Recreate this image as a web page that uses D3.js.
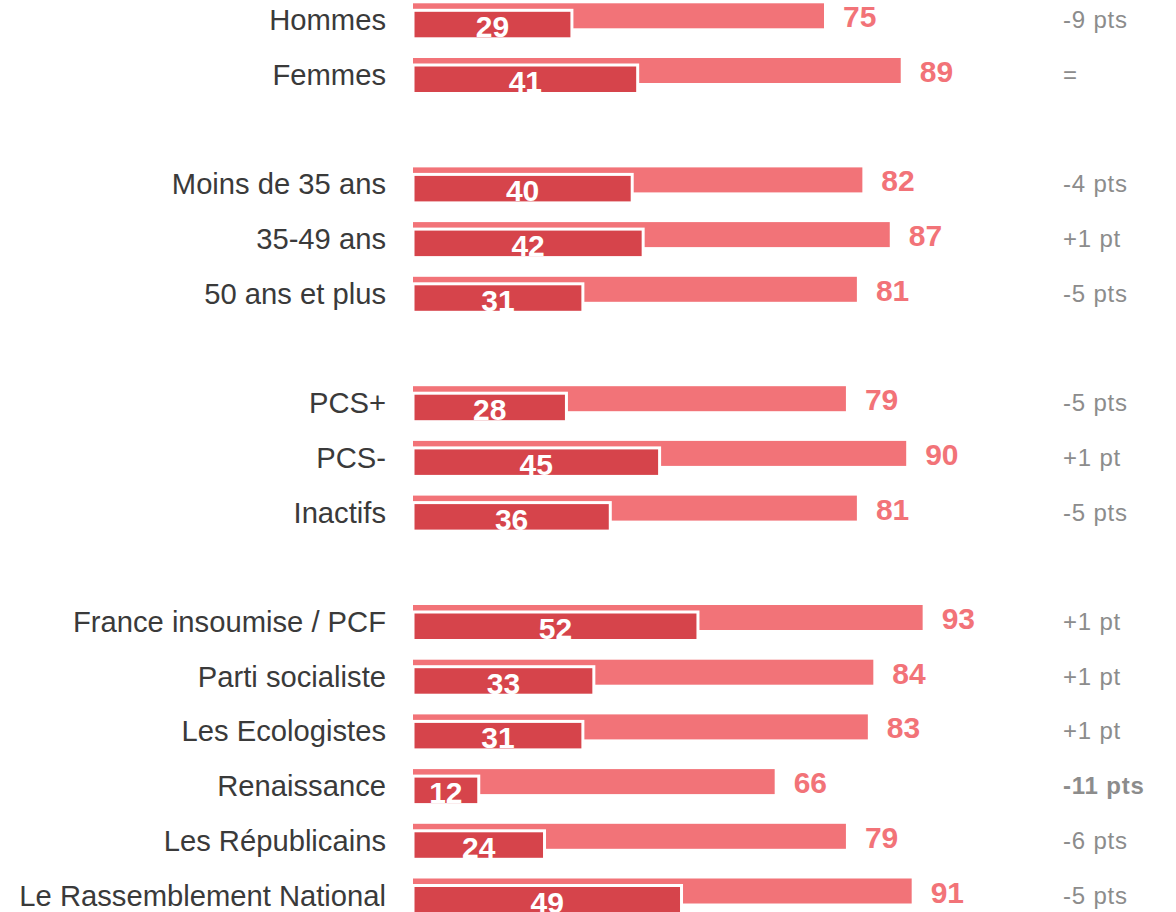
<!DOCTYPE html>
<html>
<head>
<meta charset="utf-8">
<script src="https://cdn.jsdelivr.net/npm/d3@7"></script>
<style>
  html, body { margin: 0; padding: 0; background: #fff; }
  svg { display: block; font-family: "Liberation Sans", Arial, sans-serif; }
</style>
</head>
<body>
<div id="chart"></div>
<script>
const width = 1176;
const height = 912;

// données
const categories = ["Hommes", "Femmes",
    "Moins de 35 ans", "35-49 ans", "50 ans et plus",
    "PCS+", "PCS-", "Inactifs",
    "France insoumise / PCF", "Parti socialiste", "Les Ecologistes",
    "Renaissance", "Les Républicains", "Le Rassemblement National"];
const totals = [75, 89, 82, 87, 81, 79, 90, 81, 93, 84, 83, 66, 79, 91];
const cores = [29, 41, 40, 42, 31, 28, 45, 36, 52, 33, 31, 12, 24, 49];
const changes = ["-9 pts", "=", "-4 pts", "+1 pt", "-5 pts", "-5 pts", "+1 pt", "-5 pts",
    "+1 pt", "+1 pt", "+1 pt", "-11 pts", "-6 pts", "-5 pts"];
const groupSizes = [2, 3, 3, 6];
const highlighted = ["Renaissance"];

// position de chaque ligne (une ligne vide entre les groupes)
const slots = [];
let s = 0;
groupSizes.forEach(n => {
    for (let i = 0; i < n; i++) slots.push(s++);
    s++;
});

const rows = categories.map((c, i) => ({
    name: c, total: totals[i], core: cores[i], change: changes[i], slot: slots[i]
}));

const x = d3.scaleLinear().domain([0, 100]).range([413, 961]);
const y = d3.scaleBand().domain(d3.range(17)).range([3.3, 3.3 + 17 * 54.7]).padding(0);

const light = "#f27378";
const dark = "#d6444b";

const svg = d3.select("#chart").append("svg")
    .attr("width", width)
    .attr("height", height);

const row = svg.selectAll(".row")
    .data(rows)
    .enter().append("g")
    .attr("class", "row")
    .attr("transform", d => `translate(0,${y(d.slot)})`);

row.append("text")
    .attr("x", 386)
    .attr("y", 27)
    .attr("text-anchor", "end")
    .attr("font-size", 29.2)
    .attr("fill", "#3a3a3a")
    .text(d => d.name);

row.append("rect")
    .attr("x", x(0))
    .attr("y", 0)
    .attr("width", d => x(d.total) - x(0))
    .attr("height", 25)
    .attr("fill", light);

row.append("rect")
    .attr("x", x(0))
    .attr("y", 7)
    .attr("width", d => x(d.core) - x(0))
    .attr("height", 28.5)
    .attr("fill", dark)
    .attr("stroke", "#fff")
    .attr("stroke-width", 3);

row.append("text")
    .attr("x", d => (x(0) + x(d.core)) / 2)
    .attr("y", 34)
    .attr("text-anchor", "middle")
    .attr("font-size", 30)
    .attr("font-weight", "bold")
    .attr("fill", "#fff")
    .text(d => d.core);

row.append("text")
    .attr("x", d => x(d.total) + 19)
    .attr("y", 24)
    .attr("font-size", 30)
    .attr("font-weight", "bold")
    .attr("fill", light)
    .text(d => d.total);

row.append("text")
    .attr("x", 1063)
    .attr("y", 25)
    .attr("font-size", 24)
    .attr("letter-spacing", 0.8)
    .attr("font-weight", d => highlighted.includes(d.name) ? "bold" : "normal")
    .attr("fill", "#8c8c8c")
    .text(d => d.change);
</script>
</body>
</html>
